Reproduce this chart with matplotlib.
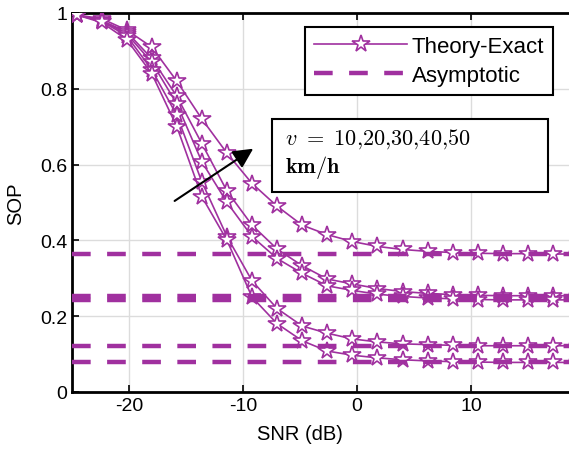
import matplotlib
matplotlib.use("Agg")
import matplotlib.pyplot as plt
from matplotlib.patches import Rectangle

plt.rcParams['font.family'] = ['Liberation Sans', 'DejaVu Sans']
plt.rcParams['mathtext.fontset'] = 'cm'
plt.rcParams['axes.unicode_minus'] = False

# SNR points where the stars sit (dB)
snr = [-24.6, -22.4, -20.2, -18.0, -15.8, -13.6, -11.4, -9.2, -7.0, -4.8, -2.6,
       -0.4, 1.8, 4.0, 6.2, 8.4, 10.6, 12.8, 15.0, 17.2, 19.4]

# exact SOP curves
sop_a = [0.995, 0.985, 0.955, 0.91, 0.82, 0.72, 0.63, 0.55, 0.49, 0.44, 0.415,
         0.397, 0.384, 0.376, 0.371, 0.368, 0.366, 0.365, 0.365, 0.364, 0.364]
sop_b = [0.995, 0.98, 0.95, 0.88, 0.78, 0.655, 0.53, 0.44, 0.377, 0.333, 0.298,
         0.285, 0.273, 0.265, 0.26, 0.257, 0.255, 0.254, 0.254, 0.254, 0.254]
sop_c = [0.995, 0.98, 0.945, 0.87, 0.76, 0.607, 0.50, 0.41, 0.352, 0.313, 0.28,
         0.268, 0.258, 0.252, 0.248, 0.246, 0.244, 0.243, 0.243, 0.243, 0.243]
sop_d = [0.995, 0.978, 0.94, 0.85, 0.73, 0.554, 0.41, 0.293, 0.22, 0.174, 0.155,
         0.14, 0.132, 0.127, 0.125, 0.123, 0.122, 0.122, 0.122, 0.122, 0.122]
sop_e = [0.995, 0.975, 0.93, 0.84, 0.70, 0.515, 0.40, 0.25, 0.18, 0.135, 0.108,
         0.097, 0.09, 0.085, 0.082, 0.08, 0.079, 0.078, 0.078, 0.078, 0.078]
curves = [sop_a, sop_b, sop_c, sop_d, sop_e]

# asymptotic floors
asym = [0.364, 0.254, 0.243, 0.122, 0.078]
asym_x = [-25, 19.4]

xticks = [-20, -10, 0, 10]
yticks = [0, 0.2, 0.4, 0.6, 0.8, 1]
ytick_labels = ['0', '0.2', '0.4', '0.6', '0.8', '1']

purple = '#a0309f'

fig = plt.figure(figsize=(5.69, 4.60), dpi=100)
ax = fig.add_axes([0.1265, 0.1457, 0.8735, 0.8239])

for i, s in enumerate(curves):
    ax.plot(snr, s, color=purple, lw=1.2, marker='*', markersize=13,
            markerfacecolor='white', markeredgecolor=purple, markeredgewidth=1.2,
            label='Theory-Exact' if i == 0 else None, zorder=3)

for i, a in enumerate(asym):
    ax.plot(asym_x, [a, a], color=purple, lw=3.2, linestyle=(0, (4.2, 3.7)),
            dash_capstyle='butt',
            label='Asymptotic' if i == 0 else None, zorder=4)

ax.set_xlim(-25, 18.6)
ax.set_ylim(0, 1)
ax.set_xticks(xticks)
ax.set_yticks(yticks)
ax.set_yticklabels(ytick_labels)
ax.tick_params(direction='in', length=5, width=1.2, labelsize=14, top=True, right=False)
ax.grid(True, color='#dcdcdc', lw=1)
ax.set_axisbelow(True)
for side in ['left', 'bottom', 'top']:
    ax.spines[side].set_linewidth(2)
ax.spines['right'].set_visible(False)

ax.set_xlabel('SNR (dB)', fontsize=14.5)
ax.set_ylabel('SOP', fontsize=14.5)
ax.xaxis.set_label_coords(0.459, -0.085)
ax.yaxis.set_label_coords(-0.095, 0.5)

leg = ax.legend(loc='upper right', bbox_to_anchor=(0.968, 0.963), borderaxespad=0,
                fontsize=16, handlelength=4.2, fancybox=False, framealpha=1,
                edgecolor='black', handletextpad=0.2, borderpad=0.4, labelspacing=0.35)
leg.get_frame().set_linewidth(1.5)

# annotation box
ax.add_patch(Rectangle((0.402, 0.528), 0.556, 0.192, transform=ax.transAxes,
                       facecolor='white', edgecolor='black', lw=1.5, zorder=5))
ax.text(0.428, 0.70, r'$v\ =\ 10{,}20{,}30{,}40{,}50$' + '\n' + r'$\mathbf{km/h}$',
        transform=ax.transAxes, fontsize=16, va='top', ha='left', zorder=6,
        linespacing=1.15)

ax.annotate('', xy=(-8.9, 0.646), xytext=(-16.2, 0.50),
            arrowprops=dict(arrowstyle='-|>', color='black', lw=1.5,
                            mutation_scale=30), zorder=6)

fig.savefig('out.png', dpi=100)
